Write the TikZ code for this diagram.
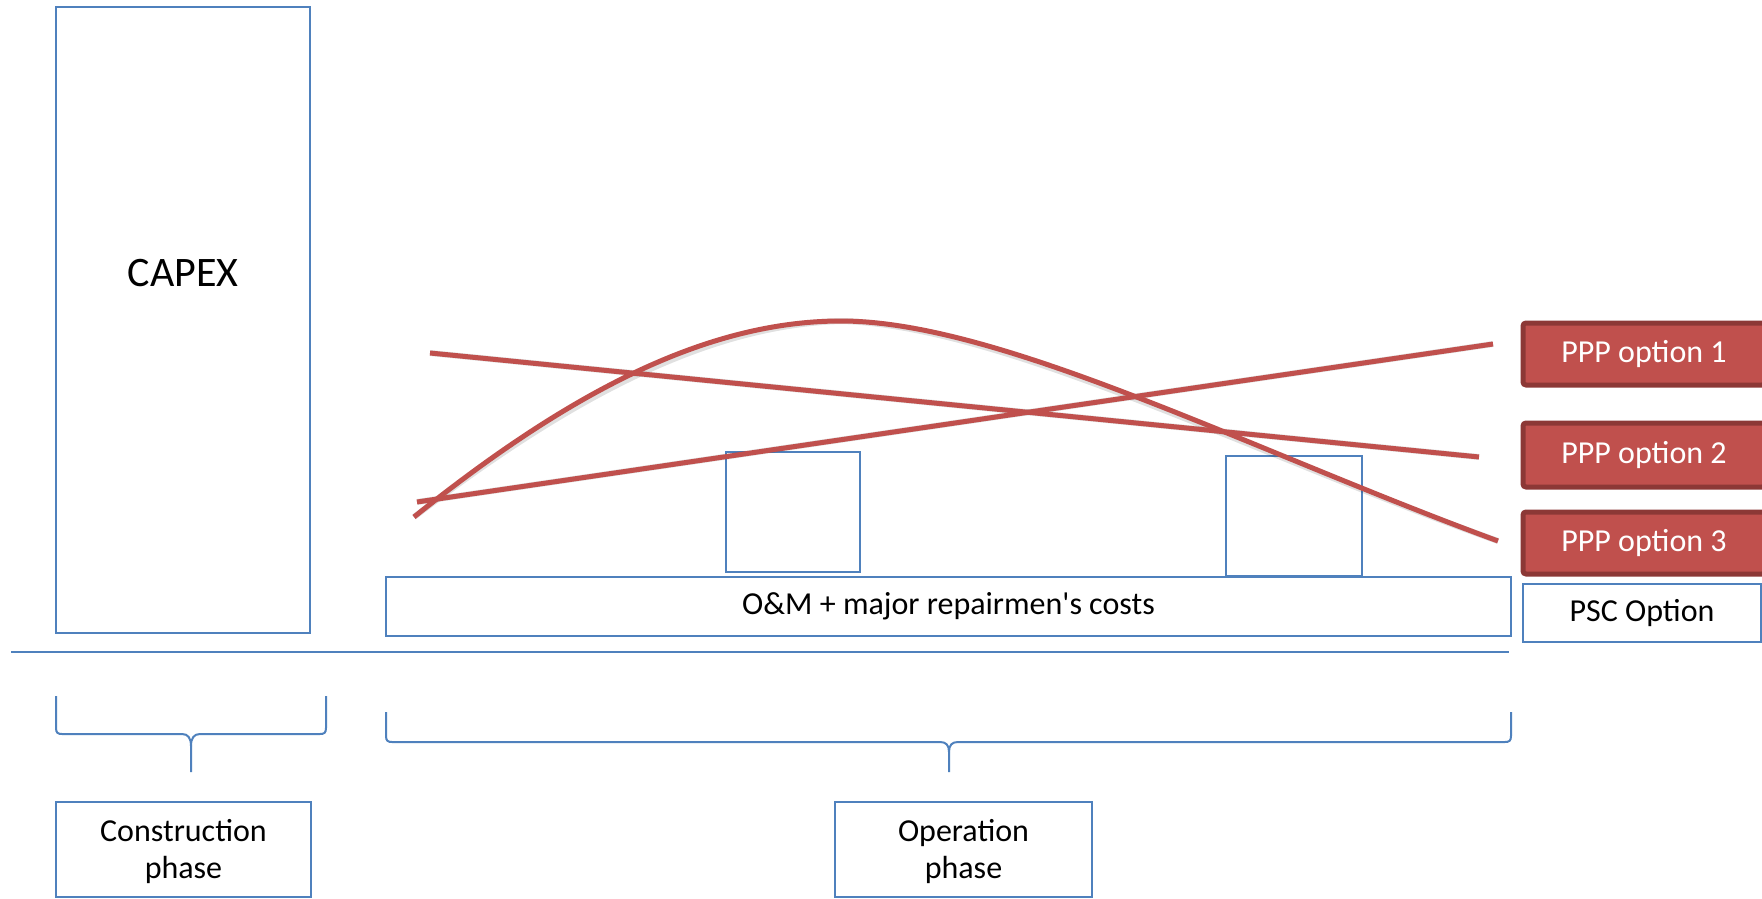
\documentclass[tikz,border=0pt]{standalone}
\usepackage{fontspec}
\setmainfont{Carlito}
\newfontfamily\calfont{Carlito}
\definecolor{obl}{HTML}{4F81BD}
\definecolor{ored}{HTML}{C0504D}
\definecolor{ordk}{HTML}{8C3836}
\tikzset{
  bluebox/.style={draw=obl, line width=1pt, fill=white, inner sep=0pt, align=center,
    font=\calfont\fontsize{16}{18.5}\selectfont},
  pppbox/.style={draw=ordk, fill=ored, line width=2.5pt, rounded corners=1.5pt, inner sep=0pt,
    text=white, font=\calfont\fontsize{16}{18.5}\selectfont, minimum width=121pt},
  bl/.style={draw=obl, line width=1pt},
  redline/.style={draw=ored, line width=2.5pt},
  redshade/.style={draw=black, opacity=0.12, line width=3pt}
}
\begin{document}
\begin{tikzpicture}[x=0.5pt,y=-0.5pt]
\useasboundingbox (0,0) rectangle (1762,899);
\clip (0,0) rectangle (1762,899);
\fill[white] (0,0) rectangle (1762,899);

% main boxes
\node[bluebox, minimum width=127pt, minimum height=313pt] (capex) at (183,320) {};
\node[font=\calfont\fontsize{21}{25}\selectfont, inner sep=0pt] (capexlabel) at (183,273) {CAPEX};
\node[bluebox, minimum width=562.5pt, minimum height=29.5pt] (om) at (948.5,606.5) {O\&M + major repairmen's costs};
\node[bluebox, minimum width=67pt, minimum height=60pt] (rep1) at (793,512) {};
\node[bluebox, minimum width=68pt, minimum height=60pt] (rep2) at (1294,516) {};
\node[bluebox, minimum width=119pt, minimum height=29pt] (psc) at (1642,613) {PSC Option};
\node[pppbox, minimum height=31pt] (ppp1) at (1644,354) {PPP option 1};
\node[pppbox, minimum height=32pt] (ppp2) at (1644,455) {PPP option 2};
\node[pppbox, minimum height=31pt] (ppp3) at (1644,543) {PPP option 3};
\node[bluebox, minimum width=127.5pt, minimum height=47.5pt] (constr) at (183.5,849.5) {\rule{0pt}{13pt}Construction\\phase};
\node[bluebox, minimum width=128.5pt, minimum height=47.5pt] (oper) at (963.5,849.5) {\rule{0pt}{13pt}Operation\\phase};

% baseline axis
\coordinate (axl) at (11,652);
\coordinate (axr) at (1509,652);
\draw[bl] (axl) -- (axr);

% braces
\draw[bl] (56,696) -- (56,728) .. controls (56,733) and (58,734) .. (62,734) -- (182,734)
  .. controls (188,734) and (191,738) .. (191,746) -- (191,772);
\draw[bl] (326,696) -- (326,728) .. controls (326,733) and (324,734) .. (320,734) -- (200,734)
  .. controls (194,734) and (191,738) .. (191,746);
\draw[bl] (386,712) -- (386,736) .. controls (386,741) and (388,742) .. (392,742) -- (940,742)
  .. controls (946,742) and (949,745) .. (949,752) -- (949,772);
\draw[bl] (1511,712) -- (1511,736) .. controls (1511,741) and (1509,742) .. (1505,742) -- (958,742)
  .. controls (952,742) and (949,745) .. (949,752);

% red cost curves
\coordinate (a1) at (430,353); \coordinate (a2) at (1479,457);
\coordinate (b1) at (417,502); \coordinate (b2) at (1493,344);
\coordinate (c1) at (414,517); \coordinate (c2) at (1498,541);
\coordinate (cp) at (841,321);
\begin{scope}[shift={(2,4)}]
\draw[redshade] (a1) -- (a2);
\draw[redshade] (b1) -- (b2);
\draw[redshade] (c1) .. controls (560,400) and (700,321) .. (cp)
  .. controls (1000,321) and (1250,450) .. (c2);
\end{scope}
\draw[redline] (a1) -- (a2);
\draw[redline] (b1) -- (b2);
\draw[redline] (c1) .. controls (560,400) and (700,321) .. (cp)
  .. controls (1000,321) and (1250,450) .. (c2);
\end{tikzpicture}
\end{document}
